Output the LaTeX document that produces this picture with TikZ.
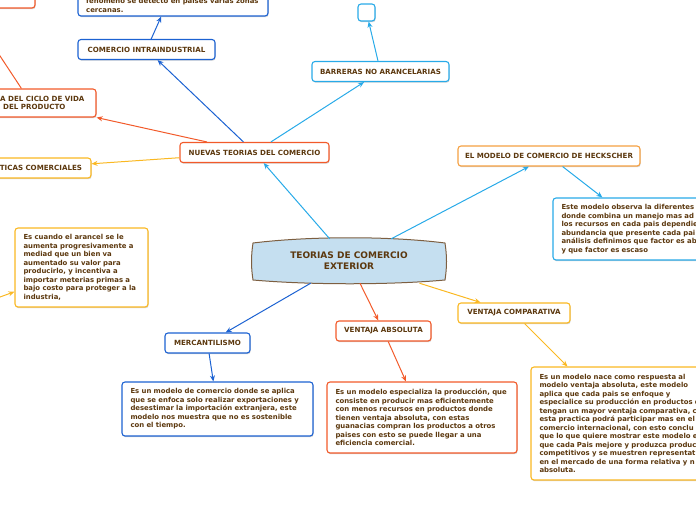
\documentclass[tikz,border=0pt]{standalone}
\usepackage{fontspec}
\setmainfont{DejaVu Sans}
\usepackage{xcolor}
\usetikzlibrary{arrows.meta,shadows}
\definecolor{txtBrown}{RGB}{92,56,14}
\definecolor{lnRed}{RGB}{242,90,42}
\definecolor{lnBlue}{RGB}{28,98,210}
\definecolor{lnSky}{RGB}{40,170,232}
\definecolor{lnGold}{RGB}{250,184,34}
\definecolor{lnOrange}{RGB}{245,160,66}
\definecolor{cenFill}{RGB}{197,223,240}
\definecolor{cenRim}{RGB}{125,95,65}

\begin{document}
\begin{tikzpicture}[x=1pt,y=-1pt,
	topicbox/.style={draw, fill=white, rounded corners=3pt, line width=1.1pt, text=txtBrown,
		font=\fontsize{7.1}{8.6}\selectfont\bfseries, inner sep=0pt, minimum height=20pt,
		drop shadow={shadow xshift=0.6pt, shadow yshift=-1.2pt, fill=black!40, opacity=.45}},
	notebox/.style={topicbox, font=\fontsize{6.9}{8.5}\selectfont\bfseries, align=left, inner xsep=8.5pt},
	linkline/.style={line width=1pt, -{Stealth[length=6pt,width=5pt]}}]
\useasboundingbox (0,0) rectangle (696,520);
\filldraw[fill=cenFill, draw=cenRim, line width=1pt] (253,243) .. controls (310,236) and (390,236) .. (445,243)
	.. controls (447,256) and (447,267) .. (445,280) .. controls (390,285) and (310,285) .. (253,280)
	.. controls (251,267) and (251,256) .. (253,243) -- cycle;
\node[font=\fontsize{9}{11}\selectfont\bfseries, text=txtBrown, align=center, minimum width=192pt,
	minimum height=44pt, inner sep=0pt] (teorias) at (349,261) {TEORIAS DE COMERCIO\\EXTERIOR};
\node[topicbox, draw=lnRed, minimum width=149pt] (nuevas) at (254.5,152.5) {NUEVAS TEORIAS DEL COMERCIO};
\node[topicbox, draw=lnBlue, minimum width=137pt] (intra) at (146.5,49.5) {COMERCIO INTRAINDUSTRIAL};
\node[topicbox, draw=lnSky, minimum width=137pt] (barreras) at (380.5,71.5) {BARRERAS NO ARANCELARIAS};
\node[topicbox, draw=lnSky, minimum width=17pt, minimum height=17pt] (vacio) at (366.5,12.5) {};
\node[topicbox, draw=lnRed, minimum width=170pt, minimum height=56pt] (previo) at (-50,-20) {};
\node[topicbox, draw=lnRed, minimum width=130pt, minimum height=28pt] (ciclo) at (31,103) {};
\node[text=txtBrown, font=\fontsize{7.1}{8.6}\selectfont\bfseries, align=left, anchor=west, inner sep=0pt]
	(cicloTxt) at (0,103) {A DEL CICLO DE VIDA\\\hspace*{3pt}DEL PRODUCTO};
\node[topicbox, draw=lnGold, minimum width=120pt, text width=102pt, align=right] (politicas) at (31,168) {TICAS COMERCIALES};
\node[topicbox, draw=lnOrange, minimum width=182pt] (heck) at (549,156) {EL MODELO DE COMERCIO DE HECKSCHER};
\node[topicbox, draw=lnBlue, minimum width=85pt] (merca) at (207.5,343) {MERCANTILISMO};
\node[topicbox, draw=lnRed, minimum width=95pt] (absoluta) at (383.5,331) {VENTAJA ABSOLUTA};
\node[topicbox, draw=lnGold, minimum width=112pt] (compara) at (514,313) {VENTAJA COMPARATIVA};
\node[notebox, draw=lnBlue, minimum width=190pt, minimum height=52pt] (intraNota) at (173,-10) {};
\node[text=txtBrown, font=\fontsize{6.9}{8.5}\selectfont\bfseries, align=left, anchor=south west, inner sep=0pt]
	(intraTxt) at (86,12.5) {fenomeno se detecto en paises varias zonas\\cercanas.};
\node[notebox, draw=lnGold, text width=116pt, minimum height=79pt] (cuando) at (81.5,267.5)
	{Es cuando el arancel se le\\aumenta progresivamente a\\mediad que un bien va\\aumentado su valor para\\producirlo, y incentiva a\\importar meterias primas a\\bajo costo para proteger a la\\industria,};
\node[notebox, draw=lnSky, text width=163pt, minimum height=62pt] (heckNota) at (643,229)
	{Este modelo observa la diferentes\\donde combina un manejo mas ad\\los recursos en cada pais dependie\\abundancia que presente cada pai\\análisis definimos que factor es ab\\y que factor es escaso};
\node[notebox, draw=lnBlue, text width=174pt, minimum height=54pt] (mercaNota) at (217.5,409)
	{Es un modelo de comercio donde se aplica\\que se enfoca solo realizar exportaciones y\\desestimar la importación extranjera, este\\modelo nos muestra que no es sostenible\\con el tiempo.};
\node[notebox, draw=lnRed, text width=173pt, minimum height=71pt] (absolutaNota) at (422,417.5)
	{Es un modelo especializa la producción, que\\consiste en producir mas eficientemente\\con menos recursos en productos donde\\tienen ventaja absoluta, con estas\\guanacias compran los productos a otros\\paises con esto se puede llegar a una\\eficiencia comercial.};
\node[notebox, draw=lnGold, text width=170pt, minimum height=113pt] (comparaNota) at (624.5,423.5)
	{Es un modelo nace como respuesta al\\modelo ventaja absoluta, este modelo\\aplica que cada pais se enfoque y\\especialice su producción en productos q\\tengan un mayor ventaja comparativa, c\\esta practica podrá participar mas en el\\comercio internacional, con esto conclu\\que lo que quiere mostrar este modelo e\\que cada Pais mejore y produzca produc\\competitivos y se muestren representat\\en el mercado de una forma relativa y n\\absoluta.};
\coordinate (origenCuando) at (-40,311.5);
\draw[linkline, lnSky] (teorias) -- (nuevas);
\draw[linkline, lnBlue] (nuevas) -- (intra);
\draw[linkline, lnSky] (nuevas) -- (barreras);
\draw[linkline, lnSky] (barreras) -- (vacio);
\draw[linkline, lnBlue] (intra) -- (intraNota);
\draw[linkline, lnRed] (nuevas) -- (ciclo);
\draw[linkline, lnRed] (ciclo) -- (previo);
\draw[linkline, lnGold] (nuevas) -- (politicas);
\draw[linkline, lnGold] (origenCuando) -- (cuando);
\draw[linkline, lnSky] (teorias) -- (heck);
\draw[linkline, lnSky] (heck) -- (heckNota);
\draw[linkline, lnBlue] (teorias) -- (merca);
\draw[linkline, lnBlue] (merca) -- (mercaNota);
\draw[linkline, lnRed] (teorias) -- (absoluta);
\draw[linkline, lnRed] (absoluta) -- (absolutaNota);
\draw[linkline, lnGold] (teorias) -- (compara);
\draw[linkline, lnGold] (compara) -- (comparaNota);
\end{tikzpicture}
\end{document}
